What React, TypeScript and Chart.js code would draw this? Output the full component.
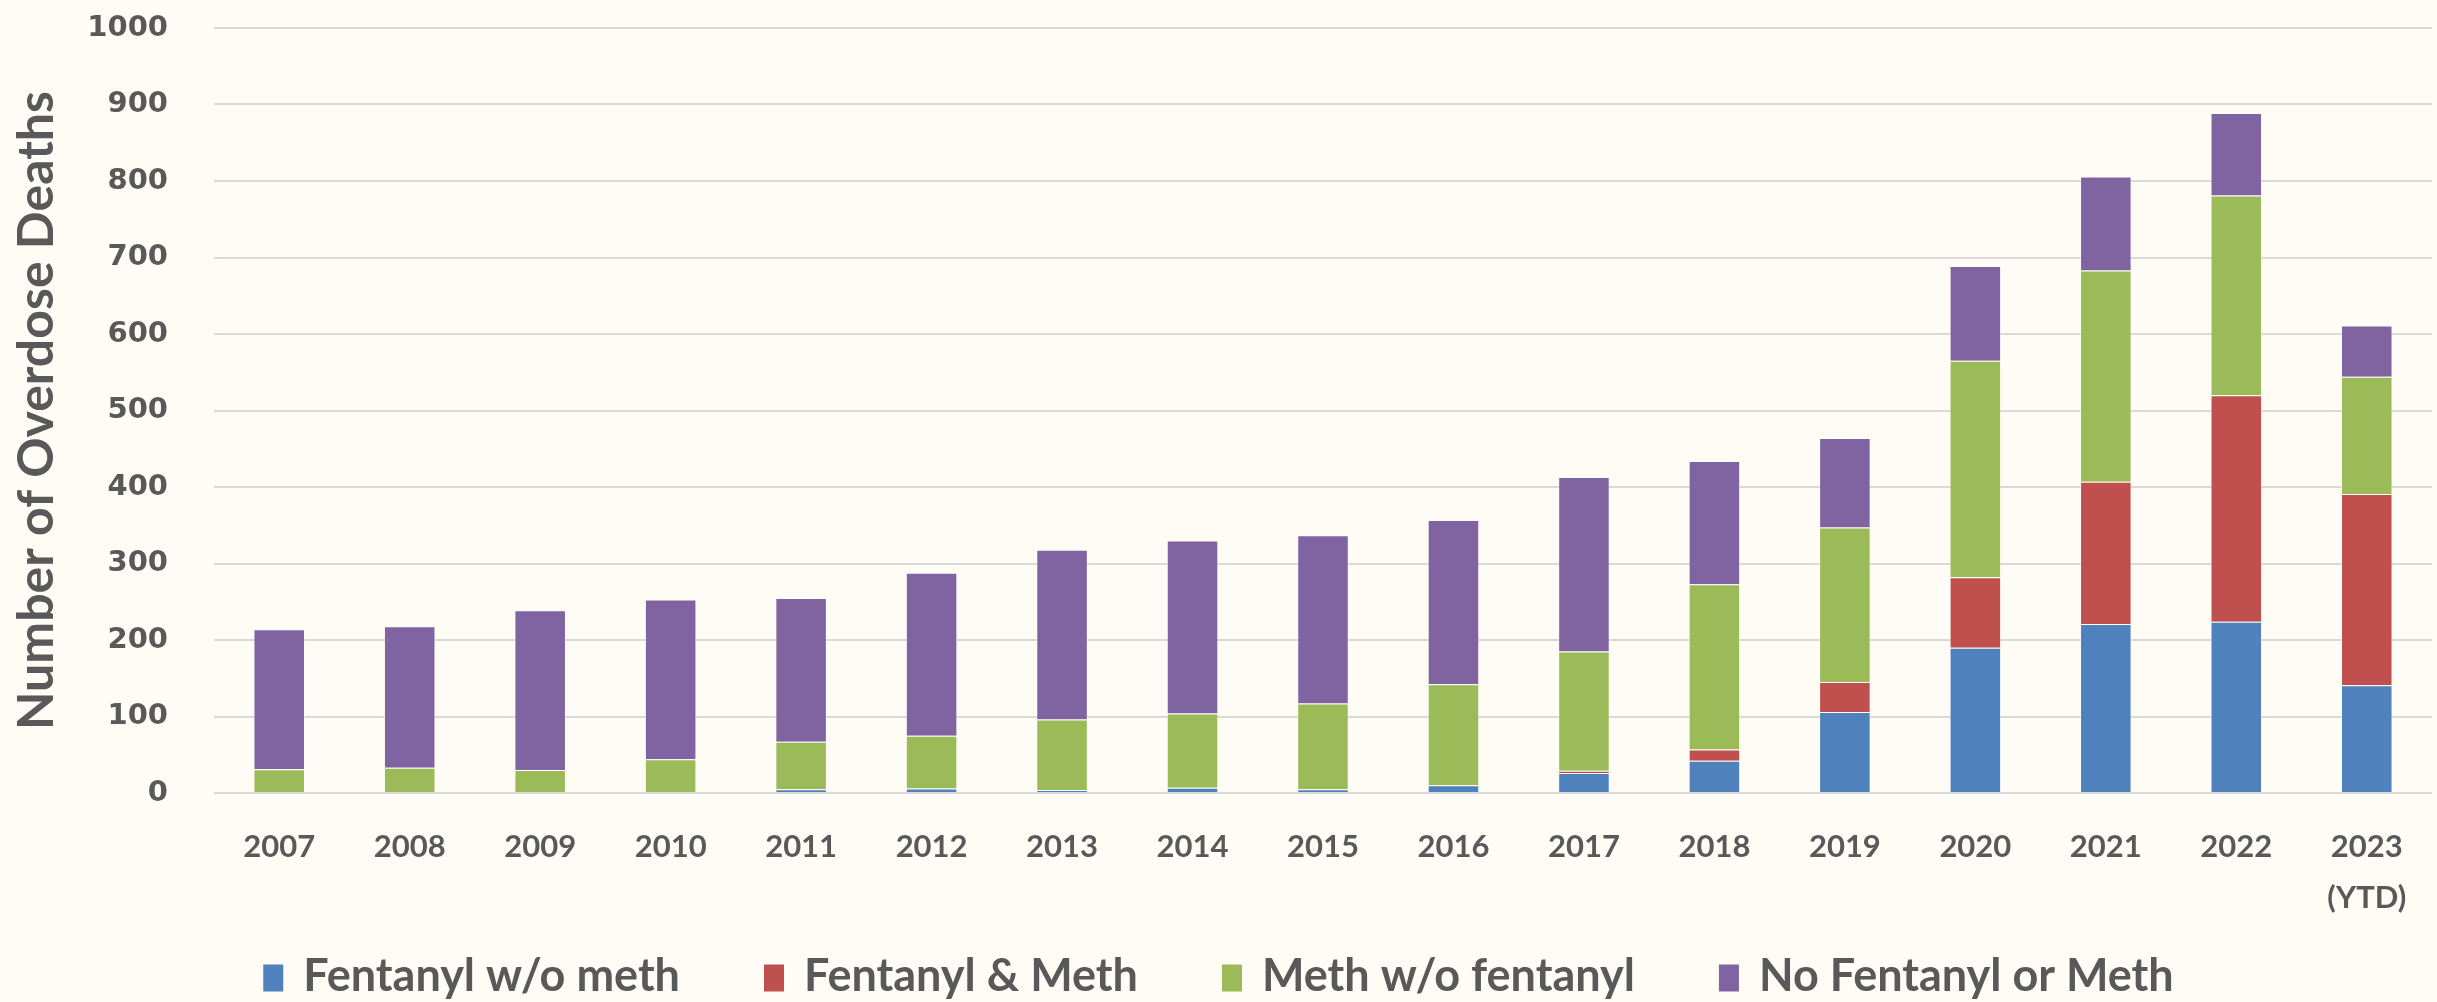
import React, { useEffect, useRef } from "react";
import { Chart, registerables } from "chart.js";

Chart.register(...registerables);

const years: (string | string[])[] = [
  "2007", "2008", "2009", "2010", "2011", "2012", "2013", "2014", "2015",
  "2016", "2017", "2018", "2019", "2020", "2021", "2022", ["2023", "(YTD)"],
];
const fentanylNoMeth = [0, 0, 0, 0, 5, 6, 4, 7, 5, 10, 26, 42, 106, 190, 221, 224, 141];
const fentanylAndMeth = [0, 0, 0, 0, 0, 0, 0, 0, 0, 0, 3, 15, 39, 92, 186, 296, 250];
const methNoFentanyl = [31, 33, 30, 44, 62, 69, 92, 97, 112, 132, 156, 216, 202, 283, 276, 261, 153];
const noFentanylOrMeth = [183, 185, 209, 209, 188, 213, 222, 226, 220, 215, 228, 161, 117, 124, 123, 108, 67];
const seriesLabels = ["Fentanyl w/o meth", "Fentanyl & Meth", "Meth w/o fentanyl", "No Fentanyl or Meth"];
const seriesColors = ["#4F81BD", "#C0504D", "#9BBB59", "#8064A2"];
const yTicks = { min: 0, max: 1000, step: 100 };
const yTitle = "Number of Overdose Deaths";

const BG = "#FFFCF5";
const TEXT = "#595959";
const FONT = "Lato, 'Open Sans', sans-serif";
const TICK_FONT = "'DejaVu Sans', Verdana, sans-serif";

const bgPlugin = {
  id: "bgFill",
  beforeDraw(chart: any) {
    const { ctx, width, height } = chart;
    ctx.save();
    ctx.fillStyle = BG;
    ctx.fillRect(0, 0, width, height);
    ctx.restore();
  },
};

const legendPlugin = {
  id: "customLegend",
  afterDraw(chart: any) {
    const { ctx, width } = chart;
    const fontSize = 45;
    const boxW = 20;
    const boxH = 27;
    const gapBoxText = 20;
    const gapItems = 84;
    const cy = 976;
    ctx.save();
    ctx.font = `bold ${fontSize}px ${FONT}`;
    ctx.textBaseline = "middle";
    const items = chart.data.datasets.map((ds: any) => ({
      label: ds.label,
      color: ds.backgroundColor,
      w: ctx.measureText(ds.label).width,
    }));
    const total =
      items.reduce((s: number, it: any) => s + boxW + gapBoxText + it.w, 0) +
      gapItems * (items.length - 1);
    let x = (width - total) / 2;
    items.forEach((it: any) => {
      ctx.fillStyle = it.color;
      ctx.fillRect(x, cy - boxH / 2 + 2, boxW, boxH);
      x += boxW + gapBoxText;
      ctx.fillStyle = TEXT;
      ctx.textAlign = "left";
      ctx.fillText(it.label, x, cy);
      x += it.w + gapItems;
    });
    ctx.restore();
  },
};

export default function App() {
  const ref = useRef<HTMLCanvasElement>(null);

  useEffect(() => {
    document.body.style.margin = "0";
    document.body.style.background = BG;
    const values = [fentanylNoMeth, fentanylAndMeth, methNoFentanyl, noFentanylOrMeth];
    const chart = new Chart(ref.current!, {
      type: "bar",
      data: {
        labels: years,
        datasets: values.map((d, i) => ({
          label: seriesLabels[i],
          data: d,
          backgroundColor: seriesColors[i],
          borderColor: "rgba(255,255,255,0.45)",
          borderWidth: 1,
          barPercentage: 0.395,
          categoryPercentage: 1,
        })),
      },
      options: {
        animation: false,
        responsive: false,
        devicePixelRatio: 1,
        layout: { padding: { top: 28, right: 5, left: 0, bottom: 89 } },
        plugins: {
          legend: { display: false },
          tooltip: { enabled: false },
        },
        scales: {
          x: {
            stacked: true,
            grid: { display: false, drawTicks: false },
            border: { display: false },
            ticks: {
              color: TEXT,
              font: { family: FONT, size: 31, weight: "bold", lineHeight: 1.65 },
              padding: 28,
              maxRotation: 0,
              autoSkip: false,
            },
            afterFit(scale: any) {
              scale.height = 120;
            },
          },
          y: {
            stacked: true,
            min: yTicks.min,
            max: yTicks.max,
            grid: { color: "#D9D9D9", lineWidth: 2, drawTicks: false },
            border: { display: false },
            ticks: {
              stepSize: yTicks.step,
              color: TEXT,
              font: { family: TICK_FONT, size: 29, weight: "bold" },
              padding: 46,
              callback: (v: any) => String(v),
            },
            title: {
              display: true,
              text: yTitle,
              color: TEXT,
              font: { family: FONT, size: 50, weight: "bold" },
              padding: { top: 7, bottom: 0 },
            },
            afterFit(scale: any) {
              scale.width = 214;
              scale.paddingTop = 0;
              scale.paddingBottom = 0;
            },
          },
        },
      },
      plugins: [bgPlugin, legendPlugin],
    });
    return () => chart.destroy();
  }, []);

  return (
    <div style={{ position: "fixed", left: 0, top: 0, width: 2437, height: 1002, background: BG }}>
      <canvas ref={ref} width={2437} height={1002} />
    </div>
  );
}
